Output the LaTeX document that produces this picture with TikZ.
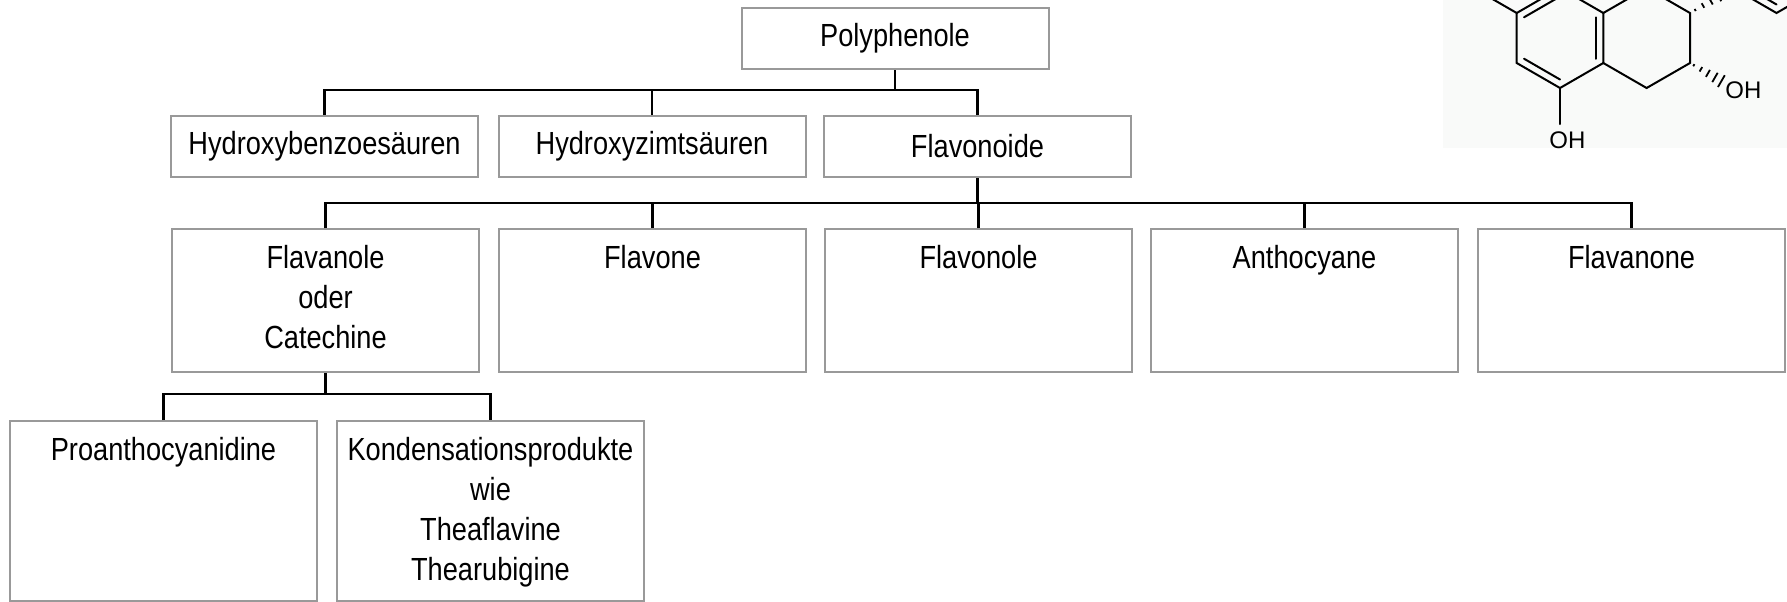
\documentclass[tikz,border=0pt]{standalone}
\usepackage{fontspec}
\newfontfamily\diagfont[FakeStretch=0.85]{Liberation Sans}
\newfontfamily\chemfont{Liberation Sans}
\usetikzlibrary{calc}
\definecolor{boxgray}{gray}{0.6}
\definecolor{bgchem}{RGB}{249,250,249}
\newcommand{\tbox}[4]{\parbox[t][#2][t]{#1}{\centering\rule{0pt}{#3}#4}}
\begin{document}
\begin{tikzpicture}[x=0.5pt,y=-0.5pt,
  box/.style={draw=boxgray,line width=1pt,inner sep=0pt,
    font=\diagfont\fontsize{16pt}{20pt}\selectfont,align=center,
    minimum width=153.5pt,minimum height=30.5pt},
  conn/.style={draw=black,line width=1.25pt},
  bond/.style={line width=1pt,line cap=round},
  hashb/.style={line width=0.9pt},
  chemlabel/.style={font=\chemfont\fontsize{12pt}{14pt}\selectfont,inner sep=0pt}]
\useasboundingbox (0,0) rectangle (1787,601);
\fill[white] (0,0) rectangle (1787,601);

% ---------- chemical structure fragment ----------
\fill[bgchem] (1443,0) rectangle (1787,148);
\begin{scope}
\clip (0,0) rectangle (1787,601);
\coordinate (A1) at (1560,-12);
\coordinate (A2) at (1603.3,13);
\coordinate (A3) at (1603.3,63);
\coordinate (A4) at (1560,88);
\coordinate (A5) at (1516.7,63);
\coordinate (A6) at (1516.7,13);
\coordinate (AO) at (1560,38);
\coordinate (C1) at (1646.6,-12);
\coordinate (C2) at (1690,13);
\coordinate (C3) at (1690,63);
\coordinate (C4) at (1646.6,88);
\coordinate (B1) at (1733.2,-12);
\coordinate (B2) at (1776.5,13);
\coordinate (B3) at (1819.8,-12);
\coordinate (BO) at (1776.5,-37);
\coordinate (S7) at (1473.4,-12);
\coordinate (W2) at (1722,81.5);
\coordinate (OHb) at (1560,124);
\draw[bond] (A1) -- (A2) -- (A3) -- (A4) -- (A5) -- (A6) -- cycle;
\draw[bond] ($(A6)!0.17!(AO)$) -- ($(A1)!0.17!(AO)$);
\draw[bond] ($(A2)!0.17!(AO)$) -- ($(A3)!0.17!(AO)$);
\draw[bond] ($(A4)!0.17!(AO)$) -- ($(A5)!0.17!(AO)$);
\draw[bond] (A6) -- (S7);
\draw[bond] (A4) -- (OHb);
\draw[bond] (A2) -- (C1) -- (C2) -- (C3) -- (C4) -- (A3);
\draw[bond] (B1) -- (B2) -- (B3);
\draw[bond] ($(B1)!0.17!(BO)$) -- ($(B2)!0.17!(BO)$);
\foreach \t/\w in {0.12/0.6,0.3/1.3,0.48/2.0,0.66/2.7,0.84/3.4}{
  \draw[hashb] ($(C2)!\t!(B1)!\w pt!90:(B1)$) -- ($(C2)!\t!(B1)!\w pt!-90:(B1)$);
}
\foreach \t/\w in {0.12/0.6,0.34/1.3,0.56/2.0,0.78/2.7,0.98/3.4}{
  \draw[hashb] ($(C3)!\t!(W2)!\w pt!90:(W2)$) -- ($(C3)!\t!(W2)!\w pt!-90:(W2)$);
}
\node[chemlabel,anchor=base west] (oh1) at (1549,148) {OH};
\node[chemlabel,anchor=base west] (oh2) at (1725,98) {OH};
\end{scope}

% ---------- tree ----------
\node[box] (poly) at (895,38.5) {Polyphenole};
\node[box] (hb) at (324.5,146.5) {Hydroxybenzoesäuren};
\node[box] (hz) at (652,146.5) {Hydroxyzimtsäuren};
\node[box] (fl) at (977.5,146.5) {Flavonoide};

\node[box,anchor=north west] (c1) at (171,228) {\tbox{153.5pt}{71.5pt}{19.8pt}{Flavanole\\oder\\Catechine}};
\node[box,anchor=north west] (c2) at (498,228) {\tbox{153.5pt}{71.5pt}{19.8pt}{Flavone}};
\node[box,anchor=north west] (c3) at (824,228) {\tbox{153.5pt}{71.5pt}{19.8pt}{Flavonole}};
\node[box,anchor=north west] (c4) at (1150,228) {\tbox{153.5pt}{71.5pt}{19.8pt}{Anthocyane}};
\node[box,anchor=north west] (c5) at (1477,228) {\tbox{153.5pt}{71.5pt}{19.8pt}{Flavanone}};

\node[box,anchor=north west] (d1) at (9,420) {\tbox{153.5pt}{90pt}{19.5pt}{Proanthocyanidine}};
\node[box,anchor=north west] (d2) at (336,420) {\tbox{152pt}{90pt}{19.5pt}{Kondensationsprodukte\\wie\\Theaflavine\\Thearubigine}};

\coordinate (b2) at (0,90);
\coordinate (b3) at (0,203);
\coordinate (b4) at (0,394);

\draw[conn] (poly.south) -- (poly.south |- b2);
\draw[conn] (hb.north) |- (fl.north |- b2) -- (fl.north);
\draw[conn] (hz.north) -- (hz.north |- b2);

\draw[conn] (fl.south) -- (fl.south |- b3);
\draw[conn] (c1.north) |- (c5.north |- b3) -- (c5.north);
\draw[conn] (c2.north) -- (c2.north |- b3);
\draw[conn] (c3.north) -- (c3.north |- b3);
\draw[conn] (c4.north) -- (c4.north |- b3);

\draw[conn] (c1.south) -- (c1.south |- b4);
\draw[conn] (d1.north) |- (d2.north |- b4) -- (d2.north);
\end{tikzpicture}
\end{document}
